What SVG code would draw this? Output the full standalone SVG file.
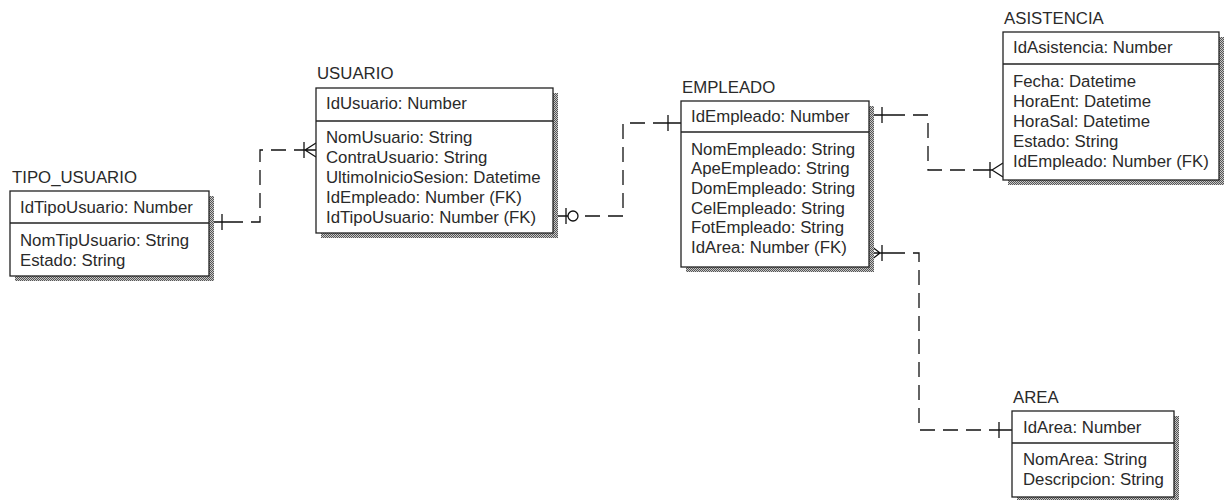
<svg xmlns="http://www.w3.org/2000/svg" width="1229" height="500" viewBox="0 0 1229 500">
<defs>
<pattern id="dither" width="2" height="2" patternUnits="userSpaceOnUse">
<rect width="2" height="2" fill="#c8c8c8"/>
<rect width="1" height="1" fill="#555"/>
<rect x="1" y="1" width="1" height="1" fill="#555"/>
</pattern>
<style>
.t{font-family:"Liberation Sans",Arial,sans-serif;font-size:16.8px;fill:#2a2a2a}
.box{fill:#fff;stroke:#222;stroke-width:1.3}
.sh{fill:url(#dither)}
.dv{stroke:#222;stroke-width:1.3}
.c{fill:none;stroke:#111;stroke-width:1.3;stroke-dasharray:15 8}
.s{fill:none;stroke:#111;stroke-width:1.3}
</style>
</defs>
<rect width="1229" height="500" fill="#fff"/>

<g id="connectors">
<path class="c" d="M228 222 H260 V150 H296"/>
<path class="s" d="M213 222 H228 M222 214 V230 M296 150 H305 M304 142 V158 M305 150 L316 143 M305 150 L316 150 M305 150 L316 157"/>

<path class="c" d="M585 216 H623 V123 H660"/>
<path class="s" d="M558 216 H568 M566 208 V224 M660 123 H681 M668 115 V131"/>
<circle cx="573" cy="216" r="5" fill="#fff" stroke="#111" stroke-width="1.3"/>

<path class="c" d="M890 115 H928 V170 H980"/>
<path class="s" d="M872 115 H890 M882 107 V123 M980 170 H992 M990 162 V178 M992 170 L1003 163 M992 170 L1003 177"/>

<path class="c" d="M890 253 H919 V430 H990"/>
<path class="s" d="M872 253 H890 M882 245 V261 M880 253 L871 246 M880 253 L871 260 M990 430 H1012 M999 422 V438"/>
</g>

<g id="TIPO_USUARIO">
<text class="t" x="12" y="183">TIPO_USUARIO</text>
<rect class="sh" x="15" y="196" width="199" height="85"/>
<rect class="box" x="10" y="191" width="199" height="85"/>
<line class="dv" x1="10" y1="223" x2="209" y2="223"/>
<text class="t" x="20" y="213">IdTipoUsuario: Number</text>
<text class="t" x="20" y="246">NomTipUsuario: String</text>
<text class="t" x="20" y="266">Estado: String</text>
</g>

<g id="USUARIO">
<text class="t" x="317" y="79">USUARIO</text>
<rect class="sh" x="321" y="93" width="237" height="145"/>
<rect class="box" x="316" y="88" width="237" height="145"/>
<line class="dv" x1="316" y1="121" x2="553" y2="121"/>
<text class="t" x="326" y="109">IdUsuario: Number</text>
<text class="t" x="326" y="143">NomUsuario: String</text>
<text class="t" x="326" y="163">ContraUsuario: String</text>
<text class="t" x="326" y="183">UltimoInicioSesion: Datetime</text>
<text class="t" x="326" y="203">IdEmpleado: Number (FK)</text>
<text class="t" x="326" y="223">IdTipoUsuario: Number (FK)</text>
</g>

<g id="EMPLEADO">
<text class="t" x="682" y="93">EMPLEADO</text>
<rect class="sh" x="686" y="106" width="188" height="166"/>
<rect class="box" x="681" y="101" width="188" height="166"/>
<line class="dv" x1="681" y1="132" x2="869" y2="132"/>
<text class="t" x="691" y="122">IdEmpleado: Number</text>
<text class="t" x="691" y="155">NomEmpleado: String</text>
<text class="t" x="691" y="174">ApeEmpleado: String</text>
<text class="t" x="691" y="194">DomEmpleado: String</text>
<text class="t" x="691" y="214">CelEmpleado: String</text>
<text class="t" x="691" y="233">FotEmpleado: String</text>
<text class="t" x="691" y="253">IdArea: Number (FK)</text>
</g>

<g id="ASISTENCIA">
<text class="t" x="1004" y="24">ASISTENCIA</text>
<rect class="sh" x="1008" y="37" width="216" height="148"/>
<rect class="box" x="1003" y="32" width="216" height="148"/>
<line class="dv" x1="1003" y1="64" x2="1219" y2="64"/>
<text class="t" x="1013" y="53">IdAsistencia: Number</text>
<text class="t" x="1013" y="87">Fecha: Datetime</text>
<text class="t" x="1013" y="107">HoraEnt: Datetime</text>
<text class="t" x="1013" y="127">HoraSal: Datetime</text>
<text class="t" x="1013" y="147">Estado: String</text>
<text class="t" x="1013" y="167">IdEmpleado: Number (FK)</text>
</g>

<g id="AREA">
<text class="t" x="1013" y="403">AREA</text>
<rect class="sh" x="1017" y="416" width="162" height="86"/>
<rect class="box" x="1012" y="411" width="162" height="86"/>
<line class="dv" x1="1012" y1="443" x2="1174" y2="443"/>
<text class="t" x="1023" y="433">IdArea: Number</text>
<text class="t" x="1023" y="465">NomArea: String</text>
<text class="t" x="1023" y="485">Descripcion: String</text>
</g>
</svg>
